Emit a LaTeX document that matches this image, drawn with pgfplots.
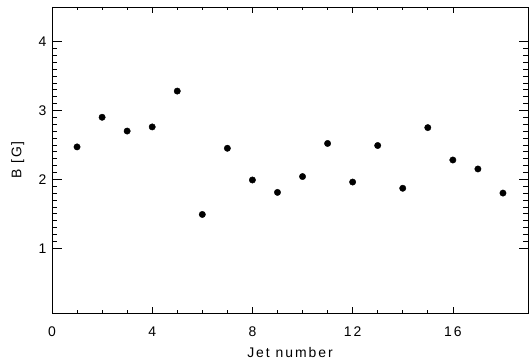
\documentclass[border=0pt]{standalone}
\usepackage{pgfplots}
\pgfplotsset{compat=1.18}
\usepackage{fontspec}
\setmainfont[LetterSpace=14]{Liberation Sans}
\begin{document}
\begin{tikzpicture}
\useasboundingbox (0,0) rectangle (530bp,363bp);
\begin{axis}[
  at={(52bp,50bp)}, anchor=south west,
  scale only axis,
  width=476bp, height=306bp,
  xmin=0, xmax=19, ymin=0.06, ymax=4.5,
  xtick={0,4,8,12,16}, ytick={1,2,3,4},
  minor x tick num=3, minor y tick num=9,
  tick align=inside,
  every major x tick/.append style={/pgfplots/major tick length=6bp},
  every minor x tick/.append style={/pgfplots/minor tick length=3bp},
  every major y tick/.append style={/pgfplots/major tick length=9.5bp},
  every minor y tick/.append style={/pgfplots/minor tick length=4.75bp},
  axis line style={line width=0.7bp},
  every tick/.style={black, line width=0.6bp},
  xtick pos=both, ytick pos=both,
  xticklabel pos=bottom, yticklabel pos=left,
  /pgf/number format/assume math mode=true,
  ticklabel style={font=\fontsize{14}{16}\selectfont},
  xticklabel style={yshift=-10bp},
  yticklabel style={xshift=-2bp},
  label style={font=\fontsize{14}{16}\selectfont},
  xlabel={Jet number}, ylabel={B [G]},
  xlabel style={at={(axis description cs:0.5,0)}, anchor=north, inner sep=0pt, yshift=-34bp},
  ylabel style={at={(axis description cs:0,0.5)}, anchor=north, inner sep=0pt, yshift=41bp},
]
\addplot[only marks, mark=*, mark size=3.2bp, black] coordinates {
(1,2.47) (2,2.90) (3,2.70) (4,2.76) (5,3.28) (6,1.49) (7,2.45) (8,1.99)
(9,1.81) (10,2.04) (11,2.52) (12,1.96) (13,2.49) (14,1.87) (15,2.75)
(16,2.28) (17,2.15) (18,1.80)
};
\end{axis}
\end{tikzpicture}
\end{document}
